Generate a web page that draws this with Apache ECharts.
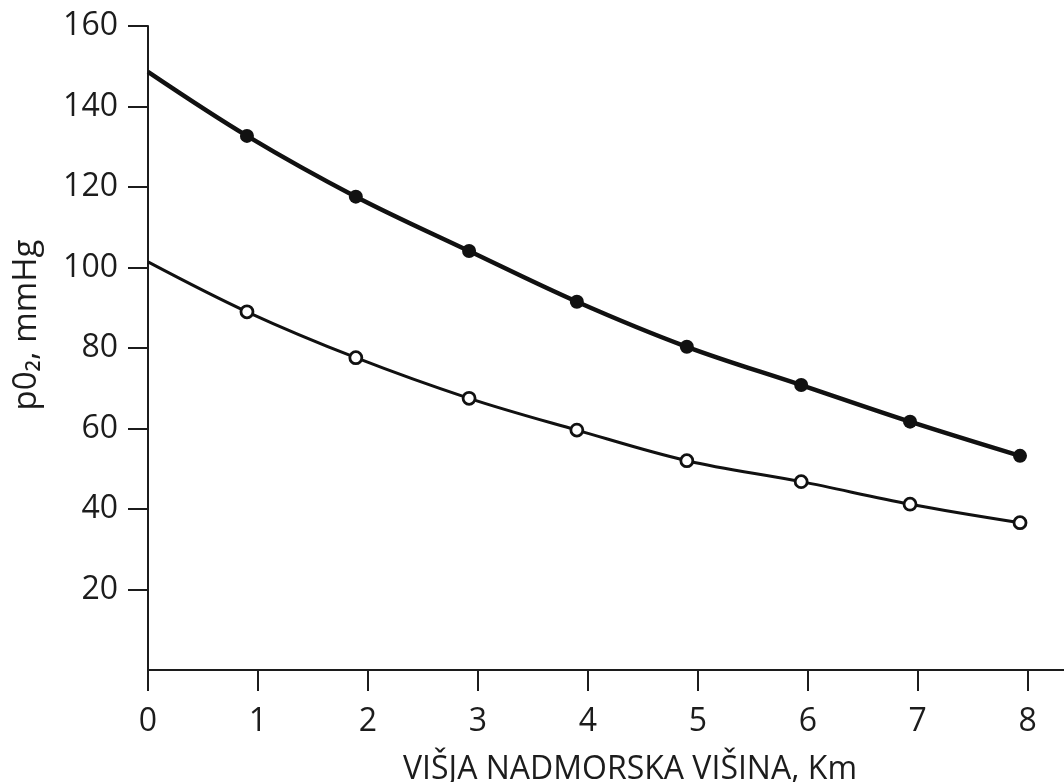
<!DOCTYPE html>
<html>
<head>
<meta charset="utf-8">
<title>pO2 i nadmorska visina</title>
<script src="https://cdn.jsdelivr.net/npm/echarts@6/dist/echarts.min.js"></script>
<style>
  html, body { margin: 0; padding: 0; background: #ffffff; }
  #chart { width: 1064px; height: 782px; }
</style>
</head>
<body>
<div id="chart"></div>
<script>
// Altitude (km) of the measured points; the first entry is the curve start at sea level
const altitudeKm = [0, 0.9, 1.89, 2.92, 3.9, 4.9, 5.94, 6.93, 7.93];
// Inspired air pO2 (filled markers), mmHg
const inspiredPO2 = [148.6, 132.7, 117.6, 104.1, 91.5, 80.3, 70.8, 61.7, 53.2];
// Alveolar pO2 (open markers), mmHg
const alveolarPO2 = [101.4, 89.0, 77.6, 67.5, 59.6, 52.0, 46.8, 41.2, 36.6];

const xTicks = [0, 1, 2, 3, 4, 5, 6, 7, 8];
const yTicks = [20, 40, 60, 80, 100, 120, 140, 160];

const xTitle = 'VIŠJA NADMORSKA VIŠINA, Km';
const yTitle = 'p0₂, mmHg';

const ink = '#1c1c1c';
const font = '"Open Sans", "Noto Sans", sans-serif';

function pairs(ys) {
  return altitudeKm.map((x, i) => ({
    value: [x, ys[i]],
    symbol: i === 0 ? 'none' : undefined
  }));
}

const chart = echarts.init(document.getElementById('chart'), null, { renderer: 'canvas' });

chart.setOption({
  backgroundColor: '#ffffff',
  animation: false,
  grid: { left: 148, right: 0, top: 26, bottom: 112, containLabel: false, outerBoundsMode: 'none' },
  xAxis: {
    type: 'value',
    min: 0,
    max: 8.33,
    interval: 1,
    splitLine: { show: false },
    axisLine: { show: true, onZero: false, lineStyle: { color: ink, width: 2 } },
    axisTick: { show: true, length: 21, inside: false, customValues: xTicks,
                lineStyle: { color: ink, width: 2 } },
    axisLabel: { customValues: xTicks, margin: 36, color: ink, fontSize: 32, fontFamily: font },
    name: xTitle,
    nameLocation: 'middle',
    nameGap: 84,
    nameTextStyle: { color: ink, fontSize: 32, fontFamily: font, padding: [0, 0, 0, 48] }
  },
  yAxis: {
    type: 'value',
    min: 0,
    max: 160,
    interval: 20,
    splitLine: { show: false },
    axisLine: { show: true, onZero: false, lineStyle: { color: ink, width: 2 } },
    axisTick: { show: true, length: 20, inside: false, customValues: yTicks,
                lineStyle: { color: ink, width: 2 } },
    axisLabel: { customValues: yTicks, margin: 30, color: ink, fontSize: 32, fontFamily: font },
    name: yTitle,
    nameLocation: 'middle',
    nameGap: 105,
    nameRotate: 90,
    nameTextStyle: { color: ink, fontSize: 33, fontFamily: font, padding: [0, 0, 0, 46] }
  },
  series: [
    {
      name: 'inspired',
      type: 'line',
      smooth: 0.35,
      data: pairs(inspiredPO2),
      symbol: 'circle',
      symbolSize: 14,
      itemStyle: { color: '#111111', borderColor: '#111111', borderWidth: 0 },
      lineStyle: { color: '#111111', width: 4.5 },
      z: 3
    },
    {
      name: 'alveolar',
      type: 'line',
      smooth: 0.35,
      data: pairs(alveolarPO2),
      symbol: 'circle',
      symbolSize: 12,
      showAllSymbol: true,
      itemStyle: { color: '#ffffff', borderColor: '#111111', borderWidth: 2.8 },
      lineStyle: { color: '#111111', width: 3 },
      z: 3
    }
  ]
});
</script>
</body>
</html>
